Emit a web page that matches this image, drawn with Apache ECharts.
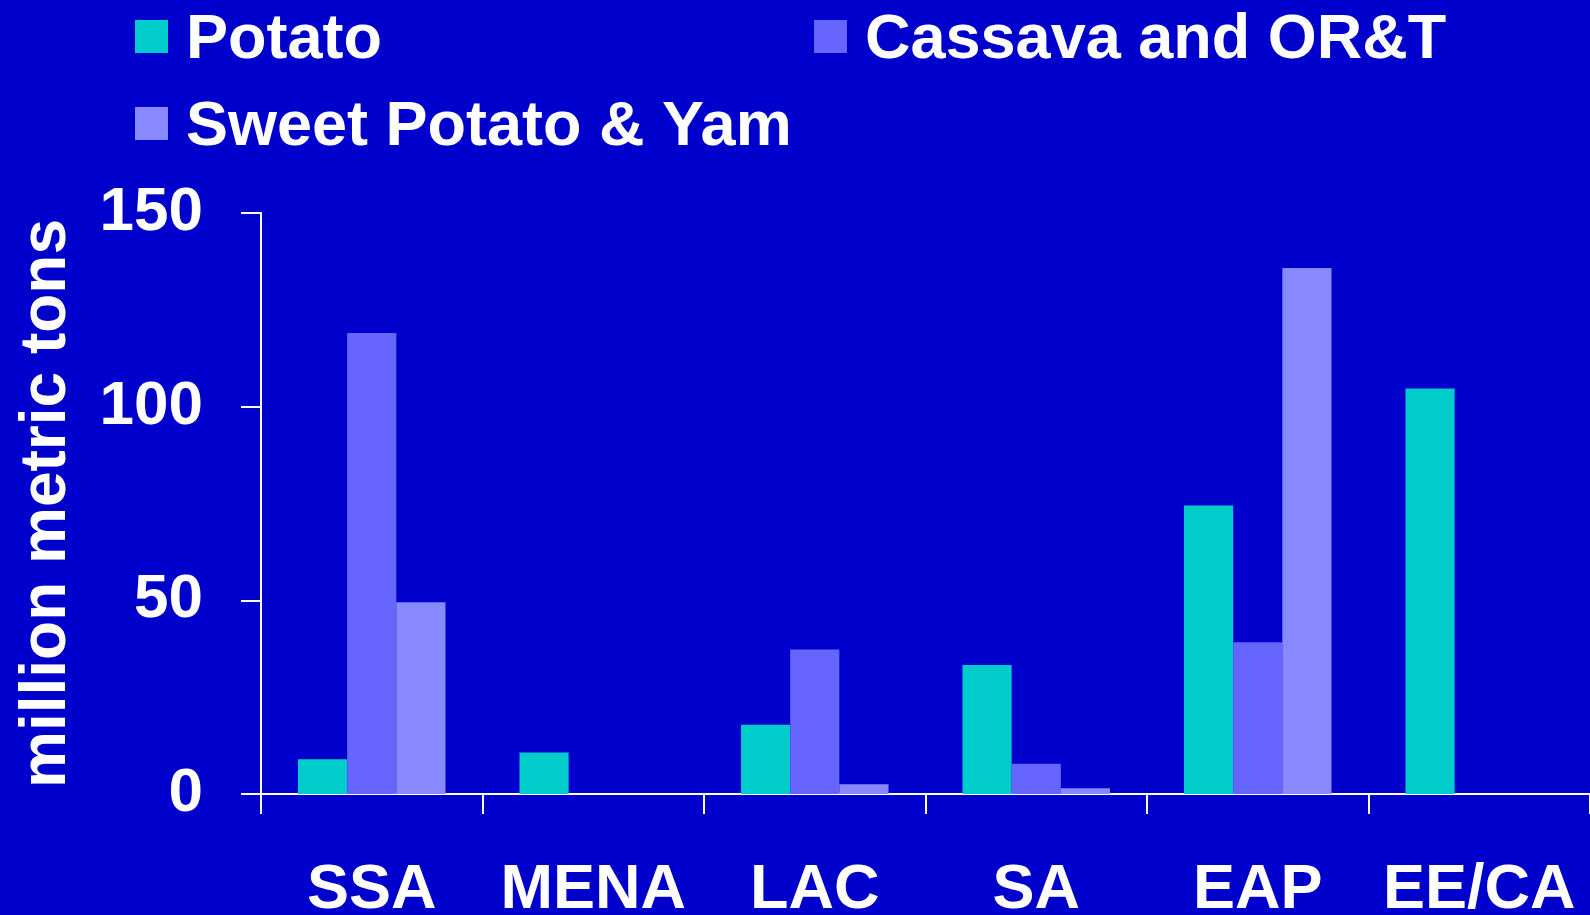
<!DOCTYPE html>
<html>
<head>
<meta charset="utf-8">
<script src="https://cdn.jsdelivr.net/npm/echarts@6/dist/echarts.min.js"></script>
<style>
html,body{margin:0;padding:0;background:#0000CC;}
#chart{width:1590px;height:915px;}
</style>
</head>
<body>
<div id="chart"></div>
<script>
const categories = ['SSA', 'MENA', 'LAC', 'SA', 'EAP', 'EE/CA'];
const potato = [9, 10.7, 17.9, 33.3, 74.5, 104.7];
const cassava = [119, 0, 37.3, 7.8, 39.2, 0];
const sweetPotatoYam = [49.5, 0, 2.5, 1.5, 135.8, 0];
const yTicks = { min: 0, max: 150, interval: 50 };
const seriesNames = ['Potato', 'Cassava and OR&T', 'Sweet Potato & Yam'];
const colors = ['#00CCCC', '#6666FF', '#8888FF'];

const FONT = '"Liberation Sans", Arial, Helvetica, sans-serif';
const chart = echarts.init(document.getElementById('chart'));

const legendText = {
  color: '#ffffff', fontSize: 63, fontWeight: 'bold', fontFamily: FONT, lineHeight: 63,
  rich: {
    t: { color: '#ffffff', fontSize: 63, fontWeight: 'bold', fontFamily: FONT, lineHeight: 63, padding: [8, 0, 0, 13] }
  }
};
const legendFormatter = function (name) { return '{t|' + name + '}'; };

chart.setOption({
  backgroundColor: '#0000CC',
  animation: false,
  color: colors,
  legend: [
    {
      data: [seriesNames[0], seriesNames[2]],
      orient: 'vertical', left: 135, top: 1, padding: 0, itemGap: 16,
      itemWidth: 33, itemHeight: 33, icon: 'rect',
      formatter: legendFormatter,
      textStyle: legendText, selectedMode: false
    },
    {
      data: [seriesNames[1]],
      orient: 'vertical', left: 814, top: 1, padding: 0,
      itemWidth: 33, itemHeight: 33, icon: 'rect',
      formatter: legendFormatter,
      textStyle: legendText, selectedMode: false
    }
  ],
  grid: { left: 261, right: 0, top: 213, bottom: 121, containLabel: false, outerBoundsMode: 'none' },
  xAxis: {
    type: 'category',
    data: categories,
    boundaryGap: true,
    axisLine: { show: true, lineStyle: { color: '#ffffff', width: 2 } },
    axisTick: { show: true, length: 20, lineStyle: { color: '#ffffff', width: 2 } },
    axisLabel: { color: '#ffffff', fontSize: 63, fontWeight: 'bold', fontFamily: FONT, margin: 65, interval: 0 },
    splitLine: { show: false }
  },
  yAxis: {
    type: 'value',
    min: yTicks.min, max: yTicks.max, interval: yTicks.interval,
    name: 'million metric tons',
    nameLocation: 'middle',
    nameGap: 182,
    nameTextStyle: { color: '#ffffff', fontSize: 64, fontWeight: 'bold', fontFamily: FONT },
    axisLine: { show: true, lineStyle: { color: '#ffffff', width: 2 } },
    axisTick: { show: true, length: 20, lineStyle: { color: '#ffffff', width: 2 } },
    axisLabel: { color: '#ffffff', fontSize: 62, fontWeight: 'bold', fontFamily: FONT, margin: 58 },
    splitLine: { show: false }
  },
  series: [
    { name: seriesNames[0], type: 'bar', data: potato, barGap: '0%', barCategoryGap: '33.4%' },
    { name: seriesNames[1], type: 'bar', data: cassava, barGap: '0%', barCategoryGap: '33.4%' },
    { name: seriesNames[2], type: 'bar', data: sweetPotatoYam, barGap: '0%', barCategoryGap: '33.4%' }
  ]
});
</script>
</body>
</html>
